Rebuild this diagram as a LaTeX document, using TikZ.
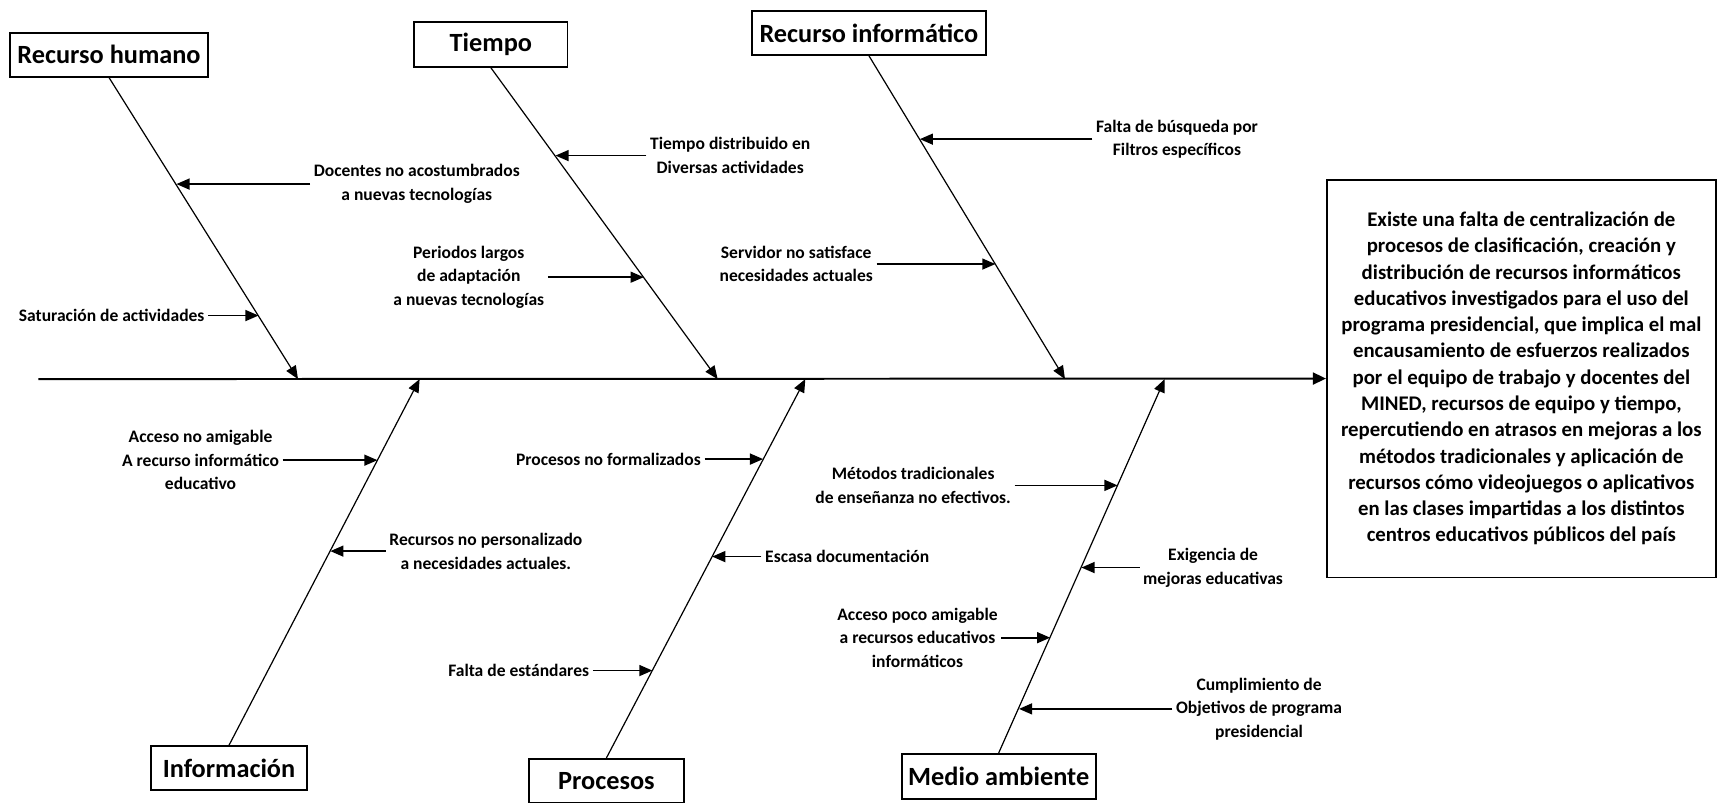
\documentclass[tikz,border=0pt]{standalone}
\usepackage{fontspec}
\setmainfont{Carlito}
\usetikzlibrary{arrows.meta}
\begin{document}
\begin{tikzpicture}[x=0.5pt,y=-0.5pt,
  catbox/.style={draw,line width=0.8pt,inner sep=0pt,font=\fontsize{12}{14}\selectfont\bfseries},
  cause/.style={align=center,inner sep=1.5pt,font=\fontsize{8}{10.8}\selectfont\bfseries},
  bone/.style={line width=0.55pt,-{Triangle[length=6pt,width=5pt]}},
  twig/.style={line width=0.75pt,-{Triangle[length=6pt,width=5pt]}},
  spine/.style={line width=0.9pt,-{Triangle[length=6pt,width=5.5pt]}},
]
\useasboundingbox (0,0) rectangle (1568,732);

% effect box
\node[draw,line width=0.8pt,minimum width=177.5pt,minimum height=181.5pt,inner sep=0pt,
      align=center,font=\fontsize{9.5}{12}\selectfont\bfseries] (EF) at (1388.5,345.5)
  {Existe una falta de centralización de\\
   procesos de clasificación, creación y\\
   distribución de recursos informáticos\\
   educativos investigados para el uso del\\
   programa presidencial, que implica el mal\\
   encausamiento de esfuerzos realizados\\
   por el equipo de trabajo y docentes del\\
   MINED, recursos de equipo y tiempo,\\
   repercutiendo en atrasos en mejoras a los\\
   métodos tradicionales y aplicación de\\
   recursos cómo videojuegos o aplicativos\\
   en las clases impartidas a los distintos\\
   centros educativos públicos del país};

% spine
\coordinate (SP) at (35,346);
\draw[spine] (SP) -- (EF.west);

% category boxes
\node[catbox,minimum width=90.5pt,minimum height=20pt] (RH) at (99.5,50) {Recurso humano};
\node[catbox,minimum width=70pt,minimum height=20.5pt] (TI) at (448,40.5) {Tiempo};
\node[catbox,minimum width=107pt,minimum height=20pt] (RI) at (793,30) {Recurso informático};
\node[catbox,minimum width=71pt,minimum height=20pt] (IN) at (209,701) {Información};
\node[catbox,minimum width=70.5pt,minimum height=20pt] (PR) at (553.5,712.5) {Procesos};
\node[catbox,minimum width=88.5pt,minimum height=20.5pt] (MA) at (911.5,708.5) {Medio ambiente};

% bone tips on the spine
\coordinate (rhT) at (272,346);
\coordinate (tiT) at (655,346);
\coordinate (riT) at (972,346);
\coordinate (inT) at (383,346);
\coordinate (prT) at (735,346);
\coordinate (maT) at (1063,346);

\draw[bone] (RH.south) -- (rhT);
\draw[bone] (TI.south) -- (tiT);
\draw[bone] (RI.south) -- (riT);
\draw[bone] (IN.north) -- (inT);
\draw[bone] (PR.north) -- (prT);
\draw[bone] (MA.north) -- (maT);

% points on the bones
\coordinate (rh1) at (161,168);
\coordinate (rh2) at (236,288);
\coordinate (ti1) at (507,142);
\coordinate (ti2) at (587.5,253);
\coordinate (ri1) at (839.5,127);
\coordinate (ri2) at (908.5,241);
\coordinate (in1) at (344.5,420);
\coordinate (in2) at (301.5,503);
\coordinate (pr1) at (696.5,419);
\coordinate (pr2) at (650,508);
\coordinate (pr3) at (595.5,612);
\coordinate (ma1) at (1020,443);
\coordinate (ma2) at (987,518);
\coordinate (ma3) at (958.5,582);
\coordinate (ma4) at (930,647);

% causes
\node[cause,anchor=west] (c1) at (283,168) {Docentes no acostumbrados\\a nuevas tecnologías};
\node[cause,anchor=east] (c2) at (190,288) {Saturación de actividades};
\node[cause,anchor=west] (c3) at (590,142) {Tiempo distribuido en\\Diversas actividades};
\node[cause,anchor=east] (c4) at (500,253) {Periodos largos\\de adaptación\\a nuevas tecnologías};
\node[cause,anchor=west] (c5) at (997,127) {Falta de búsqueda por\\Filtros específicos};
\node[cause,anchor=east] (c6) at (800,241) {Servidor no satisface\\necesidades actuales};
\node[cause,anchor=east] (c7) at (258,420) {Acceso no amigable\\A recurso informático\\educativo};
\node[cause,anchor=west] (c8) at (352,503) {Recursos no personalizado\\a necesidades actuales.};
\node[cause,anchor=east] (c9) at (643,419) {Procesos no formalizados};
\node[cause,anchor=west] (c10) at (695,508) {Escasa documentación};
\node[cause,anchor=east] (c11) at (541,612) {Falta de estándares};
\node[cause,anchor=east] (c12) at (926,443) {Métodos tradicionales\\de enseñanza no efectivos.};
\node[cause,anchor=west] (c13) at (1040,518) {Exigencia de\\mejoras educativas};
\node[cause,anchor=east] (c14) at (914,582) {Acceso poco amigable\\a recursos educativos\\informáticos};
\node[cause,anchor=west] (c15) at (1070,647) {Cumplimiento de\\Objetivos de programa\\presidencial};

\draw[twig] (c1.west) -- (rh1);
\draw[twig] (c2.east) -- (rh2);
\draw[twig] (c3.west) -- (ti1);
\draw[twig] (c4.east) -- (ti2);
\draw[twig] (c5.west) -- (ri1);
\draw[twig] (c6.east) -- (ri2);
\draw[twig] (c7.east) -- (in1);
\draw[twig] (c8.west) -- (in2);
\draw[twig] (c9.east) -- (pr1);
\draw[twig] (c10.west) -- (pr2);
\draw[twig] (c11.east) -- (pr3);
\draw[twig] (c12.east) -- (ma1);
\draw[twig] (c13.west) -- (ma2);
\draw[twig] (c14.east) -- (ma3);
\draw[twig] (c15.west) -- (ma4);
\end{tikzpicture}
\end{document}
